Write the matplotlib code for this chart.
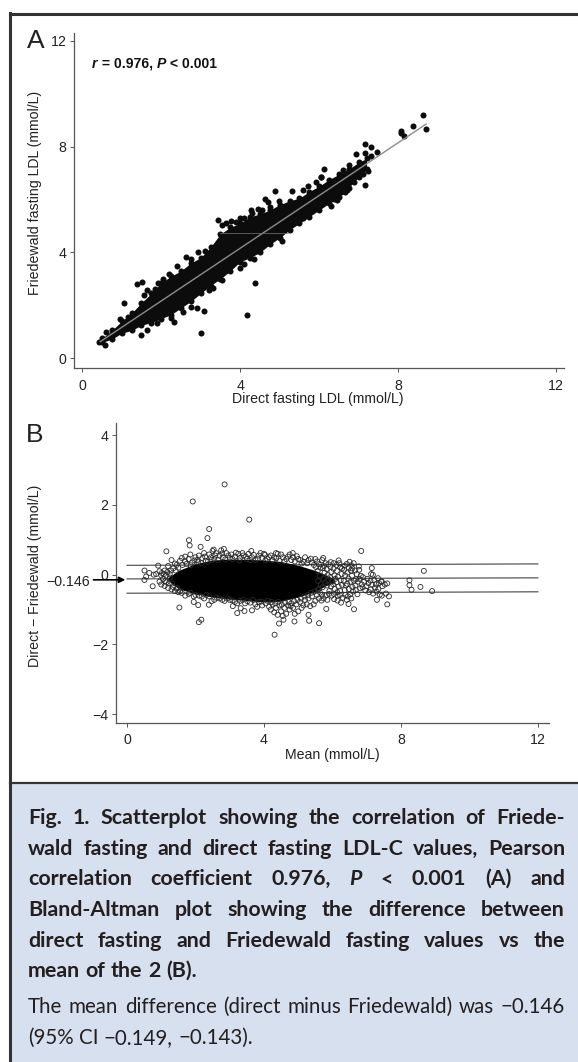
import matplotlib
matplotlib.use("Agg")
import matplotlib.pyplot as plt
from matplotlib.patches import Rectangle

W, H = 578, 1062

# ---------- Panel A data ----------
band_x = [0.5, 0.75, 1, 1.25, 1.5, 1.75, 2, 2.25, 2.5, 2.75, 3, 3.25, 3.5, 3.75, 4, 4.25, 4.5, 4.75, 5, 5.25, 5.5, 5.75, 6, 6.25, 6.5, 6.75, 7, 7.2]
band_upper = [0.75, 1.05, 1.4, 1.7, 2.1, 2.45, 2.85, 3.1, 3.3, 3.6, 3.8, 4.2, 4.7, 4.95, 5.1, 5.35, 5.45, 5.6, 5.8, 5.95, 6.05, 6.3, 6.5, 6.75, 6.95, 7.15, 7.4, 7.55]
band_lower = [0.6, 0.72, 0.95, 1.05, 1.25, 1.35, 1.5, 1.65, 1.9, 2.15, 2.45, 2.75, 3.0, 3.3, 3.65, 3.8, 4.0, 4.3, 4.55, 4.85, 5.1, 5.35, 5.6, 5.85, 6.1, 6.45, 6.85, 7.15]
out_a_x = [0.42, 0.61, 0.58, 1.07, 1.50, 1.40, 1.52, 1.56, 1.64, 1.93, 2.26, 2.32, 2.90, 3.08, 3.00, 4.18, 4.38, 3.44, 2.64, 2.92, 3.76, 4.00, 4.64, 4.70, 4.89, 5.32, 6.12, 6.89, 7.17, 7.24, 6.37, 7.15, 7.31, 7.47, 6.93, 7.17, 7.31, 8.07, 8.08, 8.15, 8.37, 8.64, 8.71, 6.05, 5.91, 6.70, 6.56, 4.27, 4.46, 3.20, 3.99]
out_a_y = [0.63, 0.99, 0.50, 2.07, 0.88, 2.82, 2.87, 2.39, 2.58, 2.86, 1.51, 1.36, 1.90, 1.80, 0.94, 1.64, 2.83, 5.23, 3.82, 4.02, 5.20, 5.29, 6.02, 5.92, 6.33, 6.33, 7.17, 6.67, 6.55, 7.09, 6.02, 8.09, 8.00, 7.78, 7.72, 7.77, 7.64, 8.60, 8.50, 8.41, 8.78, 9.18, 8.68, 6.86, 6.67, 6.36, 6.30, 5.60, 5.63, 2.58, 3.40]
rim_a_x = [3.55, 3.65, 3.9, 4.1, 4.3, 4.55, 4.75, 4.98, 5.6, 5.72, 6.05, 6.6, 6.75, 2.05, 2.2, 2.4, 2.75, 3.1, 1.15, 0.95, 1.85, 2.55, 2.75, 3.3, 3.55, 4.1, 4.35, 5.05, 5.6, 6.3, 6.45, 6.65, 7.1, 1.65, 1.9]
rim_a_y = [5.05, 5.1, 5.15, 5.3, 5.5, 5.6, 5.72, 5.95, 6.35, 6.5, 6.85, 7.1, 7.3, 3.0, 3.2, 3.5, 3.75, 4.05, 1.55, 1.5, 2.6, 1.75, 1.95, 2.65, 2.95, 3.55, 3.75, 4.45, 5.3, 5.75, 5.98, 6.28, 6.95, 1.08, 1.32]
fit_x = [0.46, 8.71]
fit_y = [0.63, 8.85]
streak_x = [3.5, 5.2]
streak_y = [4.72, 4.72]
ticks_a = [0, 4, 8, 12]

# ---------- Panel B data ----------
core_x = [1.2, 1.5, 2, 2.5, 3, 3.5, 4, 4.5, 5, 5.5, 5.8, 6.05]
core_upper = [-0.08, 0.12, 0.32, 0.42, 0.45, 0.44, 0.42, 0.38, 0.27, 0.12, 0.0, -0.12]
core_lower = [-0.16, -0.4, -0.55, -0.64, -0.7, -0.74, -0.78, -0.76, -0.64, -0.48, -0.32, -0.22]
outliers_b = [(2.85, 2.59), (1.92, 2.10), (3.57, 1.58), (2.40, 1.31), (2.35, 1.05), (1.81, 0.99), (1.83, 0.84), (2.15, 0.80), (1.15, 0.67), (6.84, 0.68), (3.63, 0.68), (2.83, 0.74), (8.67, 0.11), (8.25, -0.16), (8.25, -0.30), (8.31, -0.43), (8.57, -0.35), (8.91, -0.47), (0.51, 0.12), (0.51, -0.15), (0.56, -0.05), (0.75, -0.33), (0.91, 0.26), (0.65, 0.05), (1.53, -0.94), (2.10, -1.36), (2.17, -1.29), (1.95, -0.78), (2.08, -0.87), (2.39, -0.86), (3.09, -0.90), (3.22, -1.10), (3.32, -0.96), (3.43, -1.04), (3.65, -1.02), (4.31, -1.72), (4.44, -1.40), (4.57, -1.29), (4.89, -1.34), (5.30, -1.15), (5.32, -1.32), (5.61, -1.39), (5.82, -0.98), (6.47, -0.84), (6.63, -0.99), (7.60, -0.85), (7.65, -0.62), (7.30, -0.72), (7.15, 0.19), (7.18, 0.0), (7.60, -0.25), (7.44, -0.19), (6.77, 0.24), (6.5, 0.37), (6.18, 0.41), (5.73, 0.48), (4.84, 0.62), (4.35, 0.62), (4.03, 0.57), (2.53, 0.72)]
halo_left = [(.95, .1), (1.0, -.02), (1.05, -.12), (.85, .02), (1.1, .12), (1.15, -.22), (1.0, -.28), (1.1, -.32), (1.2, .25), (1.25, .02), (1.3, -.42), (1.2, -.38), (1.35, .18), (1.4, .32), (1.3, .42), (1.45, .28), (1.5, -.5), (1.4, -.47), (1.55, .4), (1.6, .48), (1.25, -.08), (1.15, -.02), (.78, .0), (.95, -.2), (1.32, -.25), (1.18, .08), (1.28, .12), (1.22, -.25), (1.35, -.35), (1.42, .12), (1.5, .2), (1.47, -.38), (1.08, .02), (1.02, .05), (1.12, -.18)]
halo_top = [(1.7, .52), (1.7, .38), (1.8, .45), (1.85, .58), (1.9, .35), (2.0, .5), (2.05, .42), (2.1, .55), (2.2, .48), (2.25, .62), (2.3, .4), (2.4, .58), (2.45, .5), (2.5, .68), (2.55, .45), (2.6, .62), (2.7, .55), (2.75, .7), (2.8, .5), (2.9, .62), (3.0, .48), (3.05, .58), (3.15, .52), (3.25, .6), (3.3, .48), (3.4, .55), (3.5, .45), (3.55, .6), (3.65, .5), (3.75, .42), (3.85, .55), (3.95, .48), (4.0, .6), (4.1, .45), (4.2, .55), (4.3, .5), (4.4, .6), (4.45, .4), (4.55, .5), (4.65, .45), (4.75, .58), (4.85, .5), (4.9, .38), (5.0, .45), (5.1, .32), (5.2, .5), (5.3, .42), (5.4, .35), (5.5, .45), (5.6, .3), (5.7, .42), (5.75, .25)]
halo_top2 = [(1.62, .28), (1.74, .31), (1.86, .27), (1.97, .41), (2.08, .36), (2.17, .33), (2.28, .52), (2.36, .37), (2.47, .42), (2.58, .55), (2.66, .42), (2.78, .61), (2.87, .44), (2.96, .55), (3.08, .45), (3.18, .63), (3.28, .41), (3.37, .62), (3.47, .52), (3.6, .42), (3.7, .57), (3.82, .46), (3.9, .62), (4.04, .41), (4.15, .5), (4.25, .42), (4.36, .47), (4.5, .58), (4.6, .38), (4.7, .52), (4.8, .42), (4.96, .53), (5.06, .42), (5.16, .37), (5.26, .33), (5.37, .46), (5.46, .28), (5.55, .38), (5.65, .2)]
halo_bottom = [(1.6, -.52), (1.8, -.55), (1.95, -.62), (2.1, -.6), (2.25, -.68), (2.4, -.62), (2.55, -.72), (2.7, -.68), (2.85, -.75), (3.0, -.72), (3.15, -.78), (3.3, -.75), (3.45, -.82), (3.6, -.8), (3.75, -.85), (3.85, -.78), (3.95, -.88), (4.05, -.82), (4.15, -.92), (4.2, -1.0), (4.25, -.85), (4.3, -1.08), (4.35, -.95), (4.4, -1.15), (4.45, -.88), (4.5, -1.05), (4.55, -1.18), (4.6, -.95), (4.65, -1.12), (4.7, -.88), (4.75, -1.0), (4.8, -.82), (4.85, -.95), (4.9, -1.12), (4.95, -.85), (5.0, -1.05), (5.05, -.78), (5.1, -.95), (5.15, -.88), (5.2, -.72), (5.25, -.85), (5.3, -.68), (5.35, -.9), (5.4, -.62), (5.45, -.85), (5.5, -.75), (5.55, -.58), (5.6, -.68)]
halo_bottom2 = [(1.45, -.4), (1.55, -.47), (1.7, -.6), (1.85, -.52), (2.0, -.58), (2.18, -.63), (2.32, -.58), (2.47, -.76), (2.62, -.66), (2.78, -.72), (2.93, -.68), (3.08, -.74), (3.22, -.82), (3.38, -.72), (3.52, -.76), (3.68, -.72), (3.8, -.92), (3.92, -.77), (4.1, -.75), (4.22, -.78), (4.33, -.82), (4.42, -.78), (4.52, -.86), (4.62, -.8), (4.72, -.78), (4.78, -.9), (4.88, -.76), (4.98, -.72), (5.08, -.68), (5.18, -.62), (5.28, -.58), (5.38, -.52), (5.48, -.48), (5.58, -.42), (5.64, -.52), (5.68, -.74), (5.74, -.68), (5.85, -.72), (6.05, -.7), (6.15, -.74), (6.25, -.8)]
halo_mid = [(5.52, .22), (5.57, .11), (5.63, -.03), (5.58, -.18), (5.66, -.27), (5.61, -.41), (5.72, .19), (5.77, .06), (5.74, -.11), (5.79, -.24), (5.71, -.36), (5.83, .16), (5.86, -.01), (5.88, -.16), (5.84, -.31), (5.91, -.47), (5.94, .23), (5.97, .08), (5.93, -.07), (5.99, -.19), (5.96, -.33), (6.03, .17), (6.06, -.02), (6.08, -.12), (6.02, -.27), (6.07, -.41), (6.13, .11), (6.16, -.06), (6.12, -.21), (6.18, -.34), (6.14, -.5), (6.23, .21), (6.27, .02), (6.24, -.16), (6.28, -.29), (6.22, -.46), (6.34, .14), (6.37, -.02), (6.33, -.18), (6.39, -.31), (6.36, -.44), (6.44, .06), (6.47, -.11), (6.43, -.26), (6.48, -.41), (6.54, .12), (6.57, -.03), (6.53, -.2), (6.58, -.35), (6.63, -.17), (6.67, -.31)]
halo_right = [(6.62, .33), (6.58, .18), (6.66, .12), (6.71, .02), (6.69, -.13), (6.74, -.2), (6.68, -.44), (6.73, -.56), (6.78, .14), (6.83, -.03), (6.79, -.12), (6.86, -.28), (6.81, -.39), (6.89, -.07), (6.93, -.2), (6.88, -.36), (6.96, -.45), (7.02, -.12), (7.05, -.24), (6.99, -.33), (7.07, -.5), (7.13, .02), (7.11, -.17), (7.16, -.29), (7.12, -.42), (7.19, -.54), (7.22, -.15), (7.27, -.27), (7.24, -.37), (7.29, -.48), (7.33, -.1), (7.36, -.24), (7.34, -.41), (7.38, -.57), (7.42, -.2), (7.46, -.33), (7.44, -.6), (7.53, -.28), (7.56, -.54), (6.55, .27), (6.48, .2), (6.42, .31), (6.35, .26), (6.28, .18), (6.2, .33), (6.12, .28), (6.04, .33), (5.95, .36), (5.88, .3), (5.8, .33), (6.6, -.48), (6.52, -.56), (6.45, -.62), (6.38, -.58), (6.3, -.66), (6.22, -.58), (6.15, -.6), (6.05, -.55), (5.98, -.6), (5.9, -.55), (5.8, -.6), (5.7, -.58), (6.42, -.72), (6.55, -.68)]
limit_x = [0, 12]
upper_limit = [0.27, 0.31]
mean_line = [-0.12, -0.09]
lower_limit = [-0.53, -0.49]
ticks_bx = [0, 4, 8, 12]
ticks_by = [-4, -2, 0, 2, 4]
mean_diff = -0.146

caption_bold = ["Fig. 1.  Scatterplot showing the correlation of Friede-",
                "wald fasting and direct fasting LDL-C values, Pearson",
                "correlation coefficient 0.976, P < 0.001 (A) and",
                "Bland-Altman plot showing the difference between",
                "direct fasting and Friedewald fasting values vs the",
                "mean of the 2 (B)."]
caption_regular = ["The mean difference (direct minus Friedewald) was \u22120.146",
                   "(95% CI \u22120.149, \u22120.143)."]

plt.rcParams['font.family'] = ['Liberation Sans', 'DejaVu Sans']
fig = plt.figure(figsize=(W / 100, H / 100), dpi=100, facecolor='white')
INK = '#222222'
LABEL = 10.15

def axes_px(l, t, r, b):
    return fig.add_axes([l / W, 1 - b / H, (r - l) / W, (b - t) / H])

def fx(p):
    return p / W

def fy(p):
    return 1 - p / H

def style(ax):
    ax.patch.set_alpha(0)
    for s in ('top', 'right'):
        ax.spines[s].set_visible(False)
    for s in ('left', 'bottom'):
        ax.spines[s].set_color('#555555')
        ax.spines[s].set_linewidth(0.9)
    ax.tick_params(length=3.2, width=0.7, color='#555555', labelsize=10.2, labelcolor=INK, pad=2)

# background boxes
fig.add_artist(Rectangle((fx(10), 0), 1, fy(783), transform=fig.transFigure, fc='#d6e0ef', ec='none'))
fig.add_artist(plt.Line2D([fx(10), 1], [fy(13.5), fy(13.5)], color='#333333', lw=2.2))
fig.add_artist(plt.Line2D([fx(10), fx(10)], [fy(13), 0], color='#333333', lw=2.2))
fig.add_artist(plt.Line2D([fx(10), 1], [fy(782.5), fy(782.5)], color='#333333', lw=1.6))

# Panel A
axA = axes_px(73.7, 33, 564, 368)
style(axA)
axA.set_xlim(-0.215, 12.2)
axA.set_ylim(-0.367, 12.29)
axA.fill_between(band_x, band_lower, band_upper, color='#0c0c0c', lw=0, zorder=2)
dot_size = 19
axA.scatter(band_x, band_upper, s=dot_size, c='#0c0c0c', lw=0, zorder=2)
axA.scatter(band_x, band_lower, s=dot_size, c='#0c0c0c', lw=0, zorder=2)
axA.scatter(rim_a_x, rim_a_y, s=dot_size, c='#0c0c0c', lw=0, zorder=2)
axA.scatter(out_a_x, out_a_y, s=dot_size, c='#0c0c0c', lw=0, zorder=2)
axA.plot(fit_x, fit_y, color='#8c8c8c', lw=1.0, zorder=3)
axA.plot(streak_x, streak_y, color='#777777', lw=0.5, zorder=3)
axA.set_xticks(ticks_a)
axA.set_yticks(ticks_a)
axA.tick_params(axis='x', pad=4.5)

# Panel B
axB = axes_px(115.7, 423, 548.5, 723.3)
style(axB)
axB.set_xlim(-0.33, 12.31)
axB.set_ylim(-4.26, 4.35)
axB.tick_params(axis='x', pad=3.5)
for yy in (upper_limit, mean_line, lower_limit):
    axB.plot(limit_x, yy, color='#444444', lw=0.8, zorder=1)
axB.fill_between(core_x, core_lower, core_upper, color='black', lw=0, zorder=1.5)
hx, hy = [], []
for group in (outliers_b, halo_left, halo_top, halo_top2, halo_bottom, halo_bottom2, halo_mid, halo_right):
    hx += [p[0] for p in group]
    hy += [p[1] for p in group]
axB.scatter(hx, hy, s=13, facecolors='none', edgecolors='#2a2a2a', linewidths=0.6, zorder=2)
axB.set_xticks(ticks_bx)
axB.set_yticks(ticks_by)
axB.annotate('', xy=(-0.05, mean_diff), xytext=(-0.98, mean_diff), annotation_clip=False,
             arrowprops=dict(arrowstyle='-|>', color='black', lw=1.2, shrinkA=0, shrinkB=0, mutation_scale=9))

# axis text
fig.text(fx(318), fy(399.5), 'Direct fasting LDL (mmol/L)', ha='center', va='center', fontsize=LABEL, color=INK)
fig.text(fx(332), fy(755), 'Mean (mmol/L)', ha='center', va='center', fontsize=LABEL, color=INK)
fig.text(fx(35), fy(193), 'Friedewald fasting LDL (mmol/L)', rotation=90, ha='center', va='center', fontsize=LABEL, color=INK)
fig.text(fx(35), fy(575.5), 'Direct \u2212 Friedewald (mmol/L)', rotation=90, ha='center', va='center', fontsize=LABEL, color=INK)
fig.text(fx(90), fy(581.5), '\u22120.146', ha='right', va='center', fontsize=LABEL, color=INK)
fig.text(fx(27), fy(41), 'A', ha='left', va='center', fontsize=19, color=INK)
fig.text(fx(26), fy(435), 'B', ha='left', va='center', fontsize=19, color=INK)

renderer = fig.canvas.get_renderer()

def word(x, y, s, **kw):
    t = fig.text(fx(x), fy(y), s, ha='left', va='baseline', **kw)
    return t, t.get_window_extent(renderer).width

# statistic line
x = 92
for s, sty in (('r', 'italic'), (' = 0.976, ', 'normal'), ('P', 'italic'), (' < 0.001', 'normal')):
    t = fig.text(fx(x), fy(68), s.replace(' ', '\u00a0'), ha='left', va='baseline', fontsize=10.1, fontweight='bold', fontstyle=sty, color='#111111')
    x += t.get_window_extent(renderer).width

# caption
def set_line(line, baseline, weight, justify, size):
    words = line.split()
    left, right = 28, 565
    items = []
    total = 0
    for w in words:
        t, wd = word(left, baseline, w, fontsize=size, fontweight=weight, family=['Lato', 'DejaVu Sans'],
                     fontstyle='italic' if w == 'P' else 'normal', color='#231f20')
        items.append((t, wd))
        total += wd
    gap = (right - left - total) / (len(words) - 1) if justify else size * 100 / 72 * 0.26
    px = left
    for t, wd in items:
        t.set_x(fx(px))
        px += wd + gap

bold_base = [824, 854.7, 885, 916, 946.7, 977]
for i, line in enumerate(caption_bold):
    set_line(line, bold_base[i], 'bold', i < len(caption_bold) - 1, 15.4)
reg_base = [1012.7, 1044]
for i, line in enumerate(caption_regular):
    set_line(line, reg_base[i], 'normal', i == 0, 14.8)

fig.savefig('out.png', dpi=100)
